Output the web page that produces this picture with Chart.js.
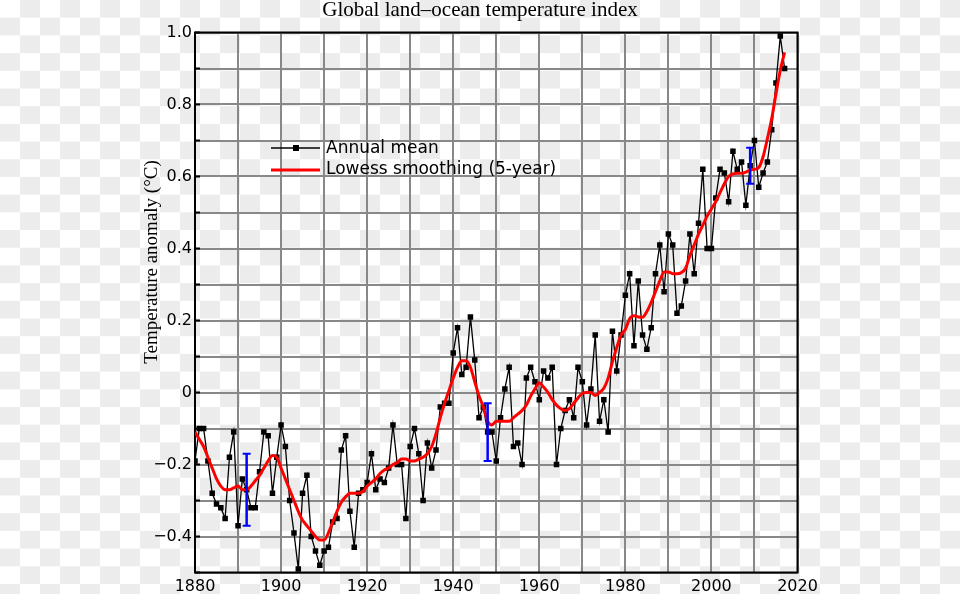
<!DOCTYPE html>
<html>
<head>
<meta charset="utf-8">
<title>Global land-ocean temperature index</title>
<script src="https://cdn.jsdelivr.net/npm/chart.js@4.4.0/dist/chart.umd.min.js"></script>
<style>
    html, body { margin: 0; padding: 0; }
    body {
        width: 960px;
        height: 594px;
        overflow: hidden;
        background-color: #fff;
        background-image: conic-gradient(#ececec 25%, #fff 0 50%, #ececec 0 75%, #fff 0);
        background-size: 40px 35.4px;
    }
    canvas { display: block; }
</style>
</head>
<body>
<canvas id="tempChart" width="960" height="594"></canvas>
<script>
// Years covered by the series (categories)
const firstYear = 1880;
const lastYear = 2017;
const years = [];
for (let y = firstYear; y <= lastYear; y++) years.push(y);

// Annual mean anomaly (°C)
const annualMean = [
    -0.19, -0.10, -0.10, -0.19, -0.28, -0.31, -0.32, -0.35, -0.18, -0.11,
    -0.37, -0.24, -0.27, -0.32, -0.32, -0.22, -0.11, -0.12, -0.28, -0.18,
    -0.09, -0.15, -0.30, -0.39, -0.49, -0.28, -0.23, -0.40, -0.44, -0.48,
    -0.44, -0.43, -0.36, -0.35, -0.16, -0.12, -0.33, -0.43, -0.28, -0.27,
    -0.25, -0.17, -0.27, -0.24, -0.25, -0.21, -0.09, -0.20, -0.20, -0.35,
    -0.15, -0.10, -0.17, -0.30, -0.14, -0.21, -0.16, -0.04, -0.03, -0.03,
     0.11,  0.18,  0.05,  0.07,  0.21,  0.09, -0.07, -0.04, -0.11, -0.11,
    -0.19, -0.07,  0.01,  0.07, -0.15, -0.14, -0.20,  0.04,  0.07,  0.03,
    -0.02,  0.06,  0.04,  0.07, -0.20, -0.10, -0.05, -0.02, -0.07,  0.07,
     0.03, -0.09,  0.01,  0.16, -0.08, -0.02, -0.11,  0.17,  0.06,  0.16,
     0.27,  0.33,  0.13,  0.31,  0.16,  0.12,  0.18,  0.33,  0.41,  0.28,
     0.44,  0.41,  0.22,  0.24,  0.31,  0.44,  0.33,  0.47,  0.62,  0.40,
     0.40,  0.54,  0.62,  0.61,  0.53,  0.67,  0.62,  0.64,  0.52,  0.63,
     0.70,  0.57,  0.61,  0.64,  0.73,  0.86,  0.99,  0.90
];

// Lowess smoothing (5-year)
const lowess = [
    -0.11, -0.13, -0.15, -0.18, -0.21, -0.24, -0.26, -0.27, -0.27, -0.265,
    -0.26, -0.27, -0.27, -0.26, -0.245, -0.23, -0.21, -0.19, -0.175, -0.18,
    -0.21, -0.24, -0.27, -0.30, -0.33, -0.355, -0.37, -0.385, -0.40, -0.41,
    -0.41, -0.39, -0.36, -0.33, -0.305, -0.29, -0.28, -0.28, -0.28, -0.275,
    -0.26, -0.25, -0.24, -0.225, -0.215, -0.21, -0.20, -0.195, -0.185, -0.185,
    -0.19, -0.19, -0.185, -0.18, -0.17, -0.15, -0.115, -0.07, -0.03, 0.005,
     0.04,  0.07,  0.088, 0.088, 0.07,  0.03, -0.01, -0.04, -0.08, -0.09,
    -0.08, -0.08, -0.08, -0.08, -0.07, -0.06, -0.05, -0.035, -0.01, 0.01,
     0.027, 0.015, 0.0, -0.02, -0.035, -0.045, -0.05, -0.045, -0.03, -0.015,
    -0.003, 0.0,  0.0, -0.008, 0.0,  0.012, 0.04,  0.085, 0.125, 0.16,
     0.175, 0.205, 0.213, 0.21, 0.209, 0.225, 0.25, 0.28, 0.31, 0.335,
     0.335, 0.33, 0.33, 0.333, 0.345, 0.38, 0.41, 0.44, 0.465, 0.49,
     0.51, 0.53, 0.555, 0.58, 0.60, 0.607, 0.609, 0.609, 0.612, 0.618,
     0.62, 0.625, 0.655, 0.705, 0.76, 0.83, 0.895, 0.945
];

// Uncertainty bars (blue)
const errYears = [1892, 1948, 2009];
const errLow = [-0.37, -0.19, 0.58];
const errHigh = [-0.17, -0.03, 0.68];

const titleText = 'Global land\u2013ocean temperature index';
const yTitleText = 'Temperature anomaly (\u00b0C)';
const legendLabels = ['Annual mean', 'Lowess smoothing (5-year)'];

const sansFont = '"DejaVu Sans", sans-serif';
const serifFont = '"Liberation Serif", "Times New Roman", serif';

function toPoints(values) {
    return values.map(function(v, i) { return { x: years[i], y: v }; });
}

// Black frame round the plot area plus short inward ticks on the left axis
const framePlugin = {
    id: 'frame',
    beforeDatasetsDraw: function(chart) {
        const ctx = chart.ctx;
        const a = chart.chartArea;
        const yScale = chart.scales.y;
        ctx.save();
        ctx.strokeStyle = '#000';
        ctx.lineWidth = 2;
        ctx.strokeRect(a.left, a.top, a.right - a.left, a.bottom - a.top);
        ctx.beginPath();
        yScale.ticks.forEach(function(t) {
            const py = yScale.getPixelForValue(t.value);
            ctx.moveTo(a.left, py);
            ctx.lineTo(a.left + 5, py);
        });
        ctx.stroke();
        ctx.restore();
    }
};

// Blue uncertainty bars with caps
const errorBarPlugin = {
    id: 'errorBars',
    afterDatasetsDraw: function(chart) {
        const ctx = chart.ctx;
        const xs = chart.scales.x;
        const ys = chart.scales.y;
        ctx.save();
        ctx.strokeStyle = '#0000ff';
        errYears.forEach(function(yr, i) {
            const px = xs.getPixelForValue(yr);
            const top = ys.getPixelForValue(errHigh[i]);
            const bottom = ys.getPixelForValue(errLow[i]);
            ctx.lineWidth = 2.5;
            ctx.beginPath();
            ctx.moveTo(px, top);
            ctx.lineTo(px, bottom);
            ctx.stroke();
            ctx.lineWidth = 2;
            ctx.beginPath();
            ctx.moveTo(px - 4, top);
            ctx.lineTo(px + 4, top);
            ctx.moveTo(px - 4, bottom);
            ctx.lineTo(px + 4, bottom);
            ctx.stroke();
        });
        ctx.restore();
    }
};

// Legend inside the plot and the rotated y-axis title
const annotationPlugin = {
    id: 'annotations',
    afterDraw: function(chart) {
        const ctx = chart.ctx;
        ctx.save();

        // Legend
        ctx.lineWidth = 1.3;
        ctx.strokeStyle = '#000';
        ctx.beginPath();
        ctx.moveTo(271, 148);
        ctx.lineTo(320, 148);
        ctx.stroke();
        ctx.fillStyle = '#000';
        ctx.fillRect(293, 145, 6, 6);

        ctx.lineWidth = 3;
        ctx.strokeStyle = '#ff0000';
        ctx.beginPath();
        ctx.moveTo(271, 170);
        ctx.lineTo(320, 170);
        ctx.stroke();

        ctx.fillStyle = '#000';
        ctx.font = '17px ' + sansFont;
        ctx.textAlign = 'left';
        ctx.textBaseline = 'middle';
        ctx.fillText(legendLabels[0], 326, 148.5);
        ctx.fillText(legendLabels[1], 326, 170);

        // Y-axis title
        ctx.translate(152, 262);
        ctx.rotate(-Math.PI / 2);
        ctx.font = '19px ' + serifFont;
        ctx.textAlign = 'center';
        ctx.textBaseline = 'middle';
        ctx.fillText(yTitleText, 0, 0);
        ctx.restore();
    }
};

function yTickLabel(v) {
    const r = Math.round(v * 10);
    if (r % 2 !== 0) return '';
    if (r === 0) return '0';
    if (r === 10) return '1.0';
    return (r / 10).toFixed(1).replace('-', '\u2212');
}

new Chart(document.getElementById('tempChart'), {
    type: 'line',
    data: {
        datasets: [{
            label: legendLabels[0],
            data: toPoints(annualMean),
            borderColor: '#000',
            backgroundColor: '#000',
            borderWidth: 1.3,
            pointStyle: 'rect',
            pointRadius: 3.9,
            pointBorderWidth: 0,
            pointBackgroundColor: '#000',
            tension: 0,
            order: 2
        }, {
            label: legendLabels[1],
            data: toPoints(lowess),
            borderColor: '#ff0000',
            backgroundColor: '#ff0000',
            borderWidth: 3,
            pointRadius: 0,
            cubicInterpolationMode: 'monotone',
            order: 1
        }]
    },
    options: {
        responsive: false,
        animation: false,
        devicePixelRatio: 1,
        layout: { padding: 0 },
        plugins: {
            legend: { display: false },
            tooltip: { enabled: false },
            title: {
                display: true,
                text: titleText,
                color: '#000',
                font: { family: serifFont, size: 21, weight: 'normal', lineHeight: 1 },
                padding: { top: 0, bottom: 11.5 }
            }
        },
        scales: {
            x: {
                type: 'linear',
                min: 1880,
                max: 2020,
                afterFit: function(s) { s.height = 21.5; },
                grid: { color: '#888', lineWidth: 2, drawTicks: false },
                border: { display: false },
                ticks: {
                    stepSize: 10,
                    autoSkip: false,
                    maxRotation: 0,
                    padding: 5,
                    color: '#000',
                    font: { family: sansFont, size: 16 },
                    callback: function(v) { return v % 20 === 0 ? String(v) : ''; }
                }
            },
            y: {
                min: -0.5,
                max: 1.0,
                afterFit: function(s) { s.width = 195; },
                grid: { color: '#888', lineWidth: 2, drawTicks: false },
                border: { display: false },
                ticks: {
                    stepSize: 0.1,
                    autoSkip: false,
                    padding: 3,
                    color: '#000',
                    font: { family: sansFont, size: 16 },
                    callback: yTickLabel
                }
            },
            yRight: {
                position: 'right',
                min: -0.5,
                max: 1.0,
                afterFit: function(s) { s.width = 162.5; },
                grid: { display: false },
                border: { display: false },
                ticks: { display: false }
            }
        }
    },
    plugins: [framePlugin, errorBarPlugin, annotationPlugin]
});
</script>
</body>
</html>
